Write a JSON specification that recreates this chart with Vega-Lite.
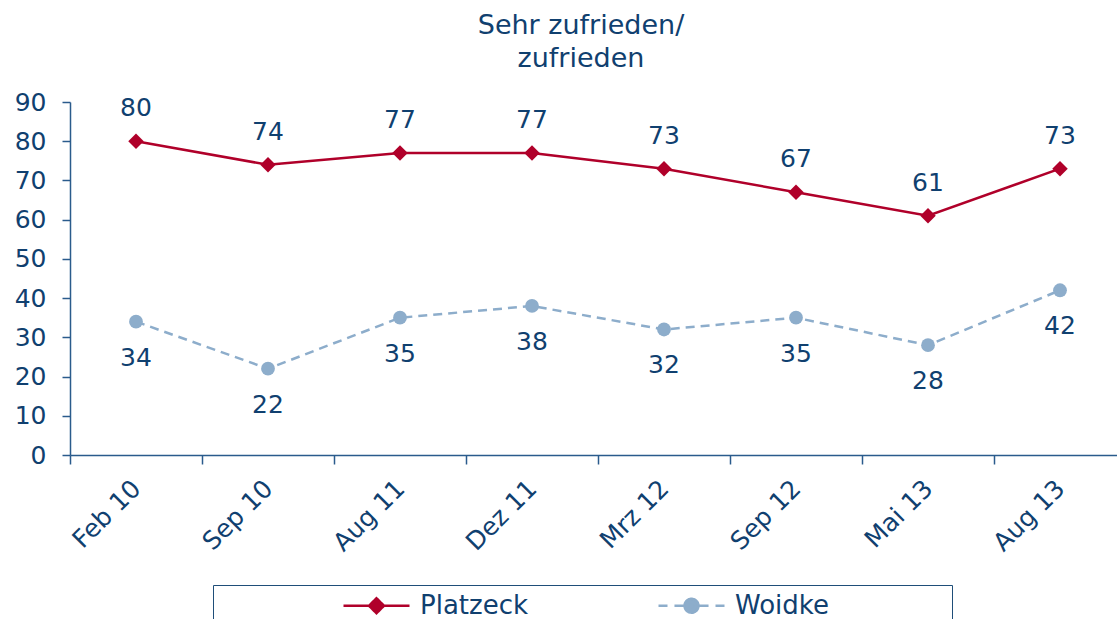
{
  "$schema": "https://vega.github.io/schema/vega-lite/v6.json",
  "width": 1056,
  "height": 353,
  "autosize": {"type": "none"},
  "padding": {"left": 70, "top": 102, "right": 0, "bottom": 164},
  "title": {
    "text": ["Sehr zufrieden/", "zufrieden"],
    "font": "DejaVu Sans",
    "fontSize": 27,
    "fontWeight": "normal",
    "color": "#10406F",
    "anchor": "middle",
    "dx": -17,
    "lineHeight": 33,
    "offset": 17
  },
  "data": {
    "values": [
      {"date": "Feb 10", "series": "Platzeck", "value": 80},
      {"date": "Sep 10", "series": "Platzeck", "value": 74},
      {"date": "Aug 11", "series": "Platzeck", "value": 77},
      {"date": "Dez 11", "series": "Platzeck", "value": 77},
      {"date": "Mrz 12", "series": "Platzeck", "value": 73},
      {"date": "Sep 12", "series": "Platzeck", "value": 67},
      {"date": "Mai 13", "series": "Platzeck", "value": 61},
      {"date": "Aug 13", "series": "Platzeck", "value": 73},
      {"date": "Feb 10", "series": "Woidke", "value": 34},
      {"date": "Sep 10", "series": "Woidke", "value": 22},
      {"date": "Aug 11", "series": "Woidke", "value": 35},
      {"date": "Dez 11", "series": "Woidke", "value": 38},
      {"date": "Mrz 12", "series": "Woidke", "value": 32},
      {"date": "Sep 12", "series": "Woidke", "value": 35},
      {"date": "Mai 13", "series": "Woidke", "value": 28},
      {"date": "Aug 13", "series": "Woidke", "value": 42}
    ]
  },
  "encoding": {
    "x": {
      "field": "date",
      "type": "ordinal",
      "sort": ["Feb 10", "Sep 10", "Aug 11", "Dez 11", "Mrz 12", "Sep 12", "Mai 13", "Aug 13"],
      "scale": {"type": "band", "paddingInner": 0, "paddingOuter": 0},
      "axis": {
        "title": null,
        "tickBand": "extent",
        "labelAngle": -45,
        "labelAlign": "right",
        "labelBaseline": "middle",
        "labelFont": "DejaVu Sans",
        "labelFontSize": 25,
        "labelColor": "#10406F",
        "labelPadding": 20,
        "tickSize": 9,
        "tickColor": "#2A5B8C",
        "domainColor": "#2A5B8C",
        "domainWidth": 1.5,
        "tickWidth": 1.5,
        "grid": false
      }
    },
    "y": {
      "field": "value",
      "type": "quantitative",
      "scale": {"domain": [0, 90], "nice": false},
      "axis": {
        "title": null,
        "values": [0, 10, 20, 30, 40, 50, 60, 70, 80, 90],
        "labelFont": "DejaVu Sans",
        "labelFontSize": 25,
        "labelColor": "#10406F",
        "labelPadding": 16,
        "tickSize": 8,
        "tickColor": "#2A5B8C",
        "domainColor": "#2A5B8C",
        "domainWidth": 1.5,
        "tickWidth": 1.5,
        "grid": false
      }
    }
  },
  "layer": [
    {
      "transform": [{"filter": "datum.series == 'Platzeck'"}],
      "mark": {"type": "line", "strokeWidth": 2.5},
      "encoding": {
        "color": {
          "field": "series",
          "type": "nominal",
          "scale": {"domain": ["Platzeck", "Woidke"], "range": ["#B0002A", "#8DADCB"]},
          "legend": {
            "orient": "none",
            "legendX": 143,
            "legendY": 483,
            "direction": "horizontal",
            "columns": 2,
            "title": "\u00a0",
            "titleFontSize": 10,
            "titleOrient": "left",
            "titlePadding": 122,
            "padding": 7,
            "strokeColor": "#1F4E79",
            "columnPadding": 124,
            "symbolSize": 576,
            "symbolOffset": 21,
            "symbolStrokeWidth": 2.5,
            "labelOffset": 30,
            "labelFont": "DejaVu Sans",
            "labelFontSize": 26,
            "labelColor": "#10406F",
            "labelLimit": 600,
            "labelExpr": "datum.label == 'Woidke' ? 'Woidke\u00a0\u00a0\u00a0\u00a0\u00a0\u00a0\u00a0\u00a0\u00a0\u00a0\u00a0\u00a0\u00a0\u00a0\u200b' : datum.label",
            "encode": {
              "symbols": {
                "update": {
                  "shape": {"signal": "datum.value == 'Platzeck' ? 'M-2.75,0H2.75M-0.625,0L0,-0.625L0.625,0L0,0.625ZM-0.35,0L0,-0.35L0.35,0L0,0.35ZM-0.1,0L0,-0.1L0.1,0L0,0.1Z' : 'M-2.75,0H-2M-1.42,0H-0.67M0.67,0H1.42M2,0H2.75M0.58,0A0.58,0.58 0 1,1 -0.58,0A0.58,0.58 0 1,1 0.58,0ZM0.33,0A0.33,0.33 0 1,1 -0.33,0A0.33,0.33 0 1,1 0.33,0ZM0.1,0A0.1,0.1 0 1,1 -0.1,0A0.1,0.1 0 1,1 0.1,0Z'"},
                  "fill": {"signal": "datum.value == 'Platzeck' ? '#B0002A' : '#8DADCB'"},
                  "stroke": {"signal": "datum.value == 'Platzeck' ? '#B0002A' : '#8DADCB'"},
                  "strokeWidth": {"value": 2.5},
                  "strokeDash": {"value": [1, 0]},
                  "opacity": {"value": 1}
                }
              }
            }
          }
        }
      }
    },
    {
      "transform": [{"filter": "datum.series == 'Woidke'"}],
      "mark": {"type": "line", "strokeWidth": 2.5, "color": "#8DADCB", "strokeDash": [9, 6]},
      "encoding": {}
    },
    {
      "transform": [{"filter": "datum.series == 'Platzeck'"}],
      "mark": {"type": "point", "shape": "diamond", "filled": true, "opacity": 1, "size": 240, "color": "#B0002A"},
      "encoding": {}
    },
    {
      "transform": [{"filter": "datum.series == 'Woidke'"}],
      "mark": {"type": "point", "shape": "circle", "filled": true, "opacity": 1, "size": 190, "color": "#8DADCB"},
      "encoding": {}
    },
    {
      "transform": [{"filter": "datum.series == 'Platzeck'"}],
      "mark": {"type": "text", "dy": -33, "font": "DejaVu Sans", "fontSize": 25, "color": "#10406F", "baseline": "middle"},
      "encoding": {"text": {"field": "value", "type": "quantitative"}}
    },
    {
      "transform": [{"filter": "datum.series == 'Woidke'"}],
      "mark": {"type": "text", "dy": 36, "font": "DejaVu Sans", "fontSize": 25, "color": "#10406F", "baseline": "middle"},
      "encoding": {"text": {"field": "value", "type": "quantitative"}}
    }
  ],
  "config": {"view": {"stroke": null}}
}
